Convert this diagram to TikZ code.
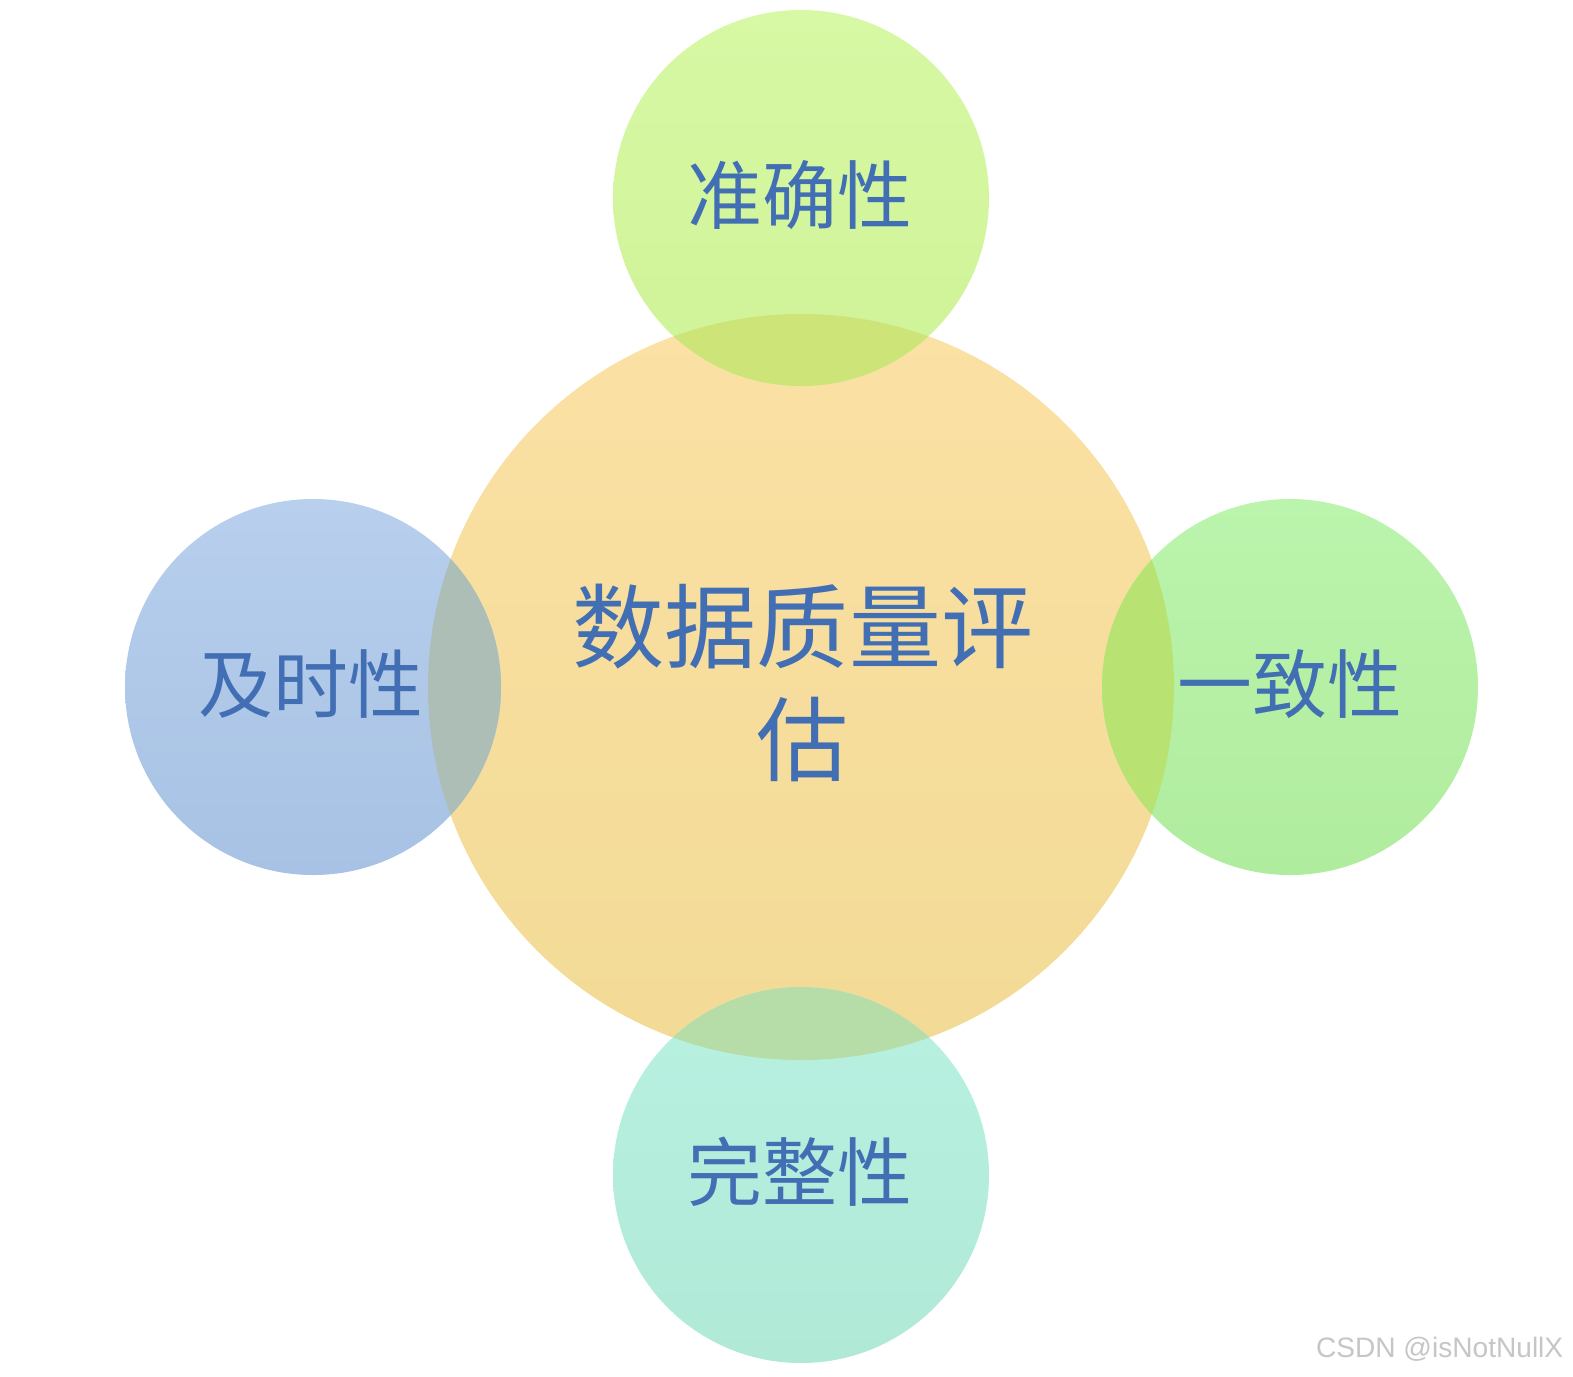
\documentclass[tikz,border=0pt]{standalone}
\usepackage{fontspec}
\newfontfamily\cjk{Noto Sans CJK SC}
\newfontfamily\wmfont{Liberation Sans}
\definecolor{txtblue}{RGB}{66,111,180}
\definecolor{cTopA}{RGB}{251,225,164}
\definecolor{cBotA}{RGB}{242,218,150}
\definecolor{gTopA}{RGB}{215,248,164}
\definecolor{gBotA}{RGB}{207,243,152}
\definecolor{bTopA}{RGB}{184,207,237}
\definecolor{bBotA}{RGB}{167,194,228}
\definecolor{rTopA}{RGB}{187,244,172}
\definecolor{rBotA}{RGB}{176,236,158}
\definecolor{tTopA}{RGB}{184,241,225}
\definecolor{tBotA}{RGB}{177,233,215}
\definecolor{lensTop}{RGB}{205,228,120}
\definecolor{lensLeft}{RGB}{172,190,182}
\definecolor{lensRight}{RGB}{184,226,114}
\definecolor{lensBot}{RGB}{182,220,168}
\definecolor{wmgray}{RGB}{198,198,198}
\tikzset{
  bigcirc/.style={circle, draw=none, minimum size=7.46cm, inner sep=0pt},
  smallcirc/.style={circle, draw=none, minimum size=3.76cm, inner sep=0pt},
  smalltext/.style={text=txtblue, font=\cjk\fontsize{21.3}{25}\selectfont, inner sep=0pt},
  bigtext/.style={text=txtblue, font=\cjk\fontsize{26.2}{32.3}\selectfont, align=center, inner sep=0pt},
}
\begin{document}
\begin{tikzpicture}
\useasboundingbox (0,0) rectangle (15.73,-13.76);
\fill[white] (0,0) rectangle (15.73,-13.76);
% circles
\node[bigcirc, top color=cTopA, bottom color=cBotA] (C) at (8.01,-6.87) {};
\node[smallcirc, top color=gTopA, bottom color=gBotA] (T) at (8.01,-1.98) {};
\node[smallcirc, top color=bTopA, bottom color=bBotA] (L) at (3.13,-6.87) {};
\node[smallcirc, top color=rTopA, bottom color=rBotA] (R) at (12.90,-6.87) {};
\node[smallcirc, top color=tTopA, bottom color=tBotA] (B) at (8.01,-11.75) {};
% overlaps
\begin{scope}
  \clip (C.center) circle (3.73);
  \fill[lensTop] (T.center) circle (1.88);
  \fill[lensLeft] (L.center) circle (1.88);
  \fill[lensRight] (R.center) circle (1.88);
  \fill[lensBot] (B.center) circle (1.88);
\end{scope}
% texts
\node[bigtext] (Ct) at (8.03,-6.83) {数据质量评\\估};
\node[smalltext] (Tt) at (8.00,-1.95) {准确性};
\node[smalltext] (Lt) at (3.11,-6.84) {及时性};
\node[smalltext] (Rt) at (12.90,-6.84) {一致性};
\node[smalltext] (Bt) at (8.00,-11.72) {完整性};
\node[text=wmgray, font=\wmfont\fontsize{8.0}{10}\selectfont, anchor=east, inner sep=0pt] (wm) at (15.64,-13.49) {CSDN @isNotNullX};
\end{tikzpicture}
\end{document}
